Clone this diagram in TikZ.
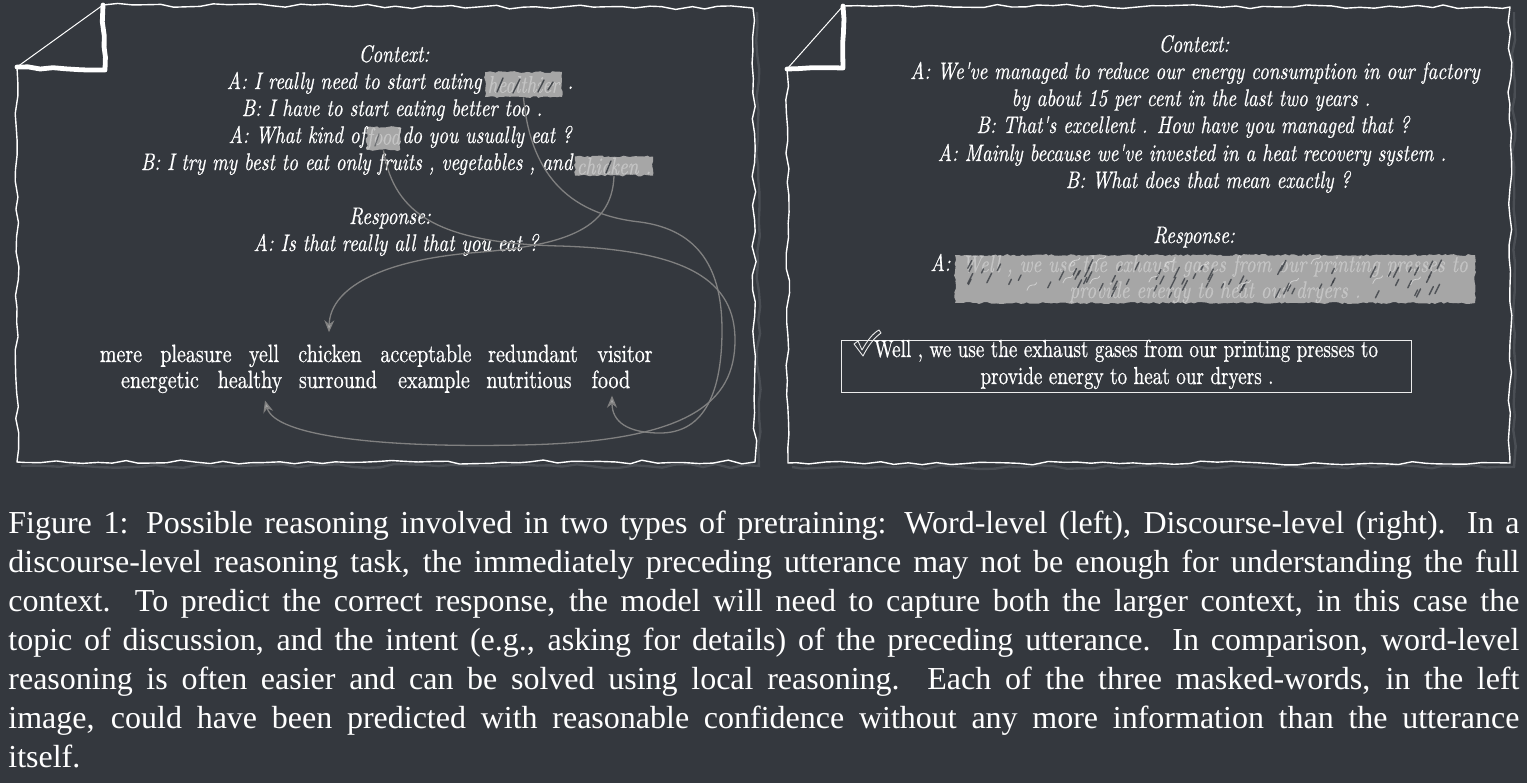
\documentclass[tikz,border=0pt]{standalone}
\usepackage{fontspec}
\setmainfont{Liberation Serif}
\newfontfamily\pfont{lmroman10-regular.otf}[ItalicFont=lmroman10-italic.otf, FakeStretch=0.8, FakeBold=0.6]
\newfontfamily\pfontb{lmroman10-regular.otf}[FakeStretch=0.78, FakeBold=0.6]
\usetikzlibrary{decorations.pathmorphing,arrows.meta,calc}
\definecolor{bg}{RGB}{52,56,62}
\definecolor{maskc}{RGB}{166,166,166}
\definecolor{masktxt}{RGB}{196,196,196}
\definecolor{connc}{RGB}{128,128,128}
\definecolor{shadowc}{RGB}{74,78,84}
\begin{document}
\begin{tikzpicture}[x=0.5pt,y=-0.5pt,
  dlg/.style={text=white, font=\pfont\itshape\fontsize{12}{13.5}\selectfont, inner sep=0pt, anchor=base},
  wordn/.style={text=white, font=\pfont\fontsize{12.5}{13.5}\selectfont, inner sep=0.5pt, anchor=base},
  boxt/.style={text=white, font=\pfontb\fontsize{12.3}{13.5}\selectfont, inner sep=0.5pt, anchor=base},
  maskbox/.style={fill=maskc, text=masktxt, font=\pfont\itshape\fontsize{12}{13}\selectfont, inner sep=0pt,
     decorate, decoration={random steps, segment length=1.5pt, amplitude=0.5pt}},
  border/.style={draw=white, line width=0.7pt, line join=round, decorate, decoration={random steps, segment length=7pt, amplitude=1pt}},
  shadowl/.style={draw=shadowc, line width=1.2pt, decorate, decoration={random steps, segment length=7pt, amplitude=1pt}},
  foldthick/.style={draw=white, line width=2.4pt, line cap=round, line join=round, decorate, decoration={random steps, segment length=6pt, amplitude=0.7pt}},
  foldthin/.style={draw=white, line width=0.5pt},
  conn/.style={draw=connc, line width=0.65pt, -{Stealth[length=6pt,width=5pt,fill=connc!70!white]}},
  scrib/.style={draw=bg, line width=0.7pt, line cap=round, opacity=0.85}
]
\pgfmathsetseed{7}
\fill[bg] (0,0) rectangle (1527,783);
\useasboundingbox (0,0) rectangle (1527,783);

% ---------- left panel ----------
\draw[shadowl] (757,12) -- (759,466) -- (21,466);
\draw[border] (103,5) -- (753,8) -- (755,462) -- (17,462) -- (17,67);
\draw[foldthin] (17,67) -- (103,5);
\draw[foldthick] (17,67) -- (105,70) -- (103,5);

\node[dlg] (lctx) at (394,62) {Context:};
% line 1
\node[maskbox, minimum width=38.5pt, minimum height=12.5pt] (mh) at (523.5,84.5) {healthier};
\node[dlg, anchor=base east] (l1a) at (482,89) {A: I really need to start eating};
\node[dlg, anchor=base west] (l1b) at (567,89) {.};
\node[dlg] (l2) at (392,116) {B: I have to start eating better too .};
% line 3
\node[maskbox, minimum width=16.5pt, minimum height=11.5pt] (mf) at (383.5,138.5) {food};
\node[dlg, anchor=base east] (l3a) at (366,143) {A: What kind of};
\node[dlg, anchor=base west] (l3b) at (402,143) {do you usually eat ?};
% line 4
\node[maskbox, minimum width=39pt, minimum height=9.5pt] (mc) at (614,166) {chicken .};
\node[dlg, anchor=base east] (l4a) at (573,170) {B: I try my best to eat only fruits , vegetables , and};

\node[dlg] (lresp) at (390,224) {Response:};
\node[dlg] (lr1) at (396,251) {A: Is that really all that you eat ?};

% scribbles in masks
\draw[scrib] (497,92) -- (503,78) (513,93) -- (520,79) (538,92) -- (544,80) (548,90) -- (553,82);
\draw[scrib] (606,173) -- (611,161);
\draw[scrib, opacity=0.5] (375,146) -- (379,134);

% word rows
\node[wordn] (w1) at (121,362) {mere};
\node[wordn] (w2) at (196,362) {pleasure};
\node[wordn] (w3) at (264,362) {yell};
\node[wordn] (wchicken) at (330,362) {chicken};
\node[wordn] (w5) at (426,362) {acceptable};
\node[wordn] (w6) at (533,362) {redundant};
\node[wordn] (w7) at (625,362) {visitor};
\node[wordn] (w8) at (160,388) {energetic};
\node[wordn] (whealthy) at (250,388) {healthy};
\node[wordn] (w10) at (338,388) {surround};
\node[wordn] (w11) at (434,388) {example};
\node[wordn] (w12) at (529,388) {nutritious};
\node[wordn] (wfood) at (611,388) {food};

% connectors
\draw[conn] (mh.south) .. controls (530,170) and (565,214) .. (640,222)
   .. controls (700,230) and (722,270) .. (722,330)
   .. controls (722,400) and (700,433) .. (660,433)
   .. controls (628,433) and (612,422) .. ($(wfood.south)+(1,6)$);
\draw[conn] (mf.south) .. controls (394,215) and (440,243) .. (560,246)
   .. controls (690,250) and (735,282) .. (735,340)
   .. controls (735,402) and (690,442) .. (520,445)
   .. controls (380,448) and (275,436) .. ($(whealthy.south)+(15,6)$);
\draw[conn] (mc.south) .. controls (612,232) and (560,246) .. (470,253)
   .. controls (372,262) and (330,292) .. ($(wchicken.north)+(-1,-11)$);

% ---------- right panel ----------
\draw[shadowl] (1514,12) -- (1514,467) -- (792,467);
\draw[border] (843,6) -- (1510,7) -- (1510,463) -- (788,463) -- (787,69);
\draw[foldthin] (787,69) -- (843,6);
\draw[foldthick] (787,69) -- (843,68) -- (843,6);

\node[dlg] (rctx) at (1194,52) {Context:};
\node[dlg] (r1) at (1195,79) {A: We've managed to reduce our energy consumption in our factory};
\node[dlg] (r2) at (1191,106) {by about 15 per cent in the last two years .};
\node[dlg] (r3) at (1193,133) {B: That's excellent . How have you managed that ?};
\node[dlg] (r4) at (1192,161) {A: Mainly because we've invested in a heat recovery system .};
\node[dlg] (r5) at (1208,188) {B: What does that mean exactly ?};
\node[dlg] (rresp) at (1194,243) {Response:};
\node[maskbox, minimum width=260pt, minimum height=24pt, align=center, font=\pfont\itshape\fontsize{12}{13}\selectfont] (rm) at (1215,279)
  {Well , we use the exhaust gases from our printing presses to\\provide energy to heat our dryers .};
\node[dlg, anchor=base east] (rA) at (951,271) {A:};
\foreach \i in {1,...,70} {
  \pgfmathsetmacro\xx{962+rnd*500}
  \pgfmathsetmacro\yy{268+rnd*30}
  \pgfmathsetmacro\ll{4+rnd*7}
  \draw[scrib, opacity=0.75] (\xx,\yy) -- ++(0.5*\ll,-\ll);
}
\foreach \i in {1,...,14} {
  \pgfmathsetmacro\xx{970+rnd*480}
  \pgfmathsetmacro\yy{262+rnd*30}
  \draw[draw=white!85!gray, line width=0.4pt, opacity=0.6] (\xx,\yy) .. controls ++(4,-10) and ++(-3,6) .. ++(10,-8);
}

% answer box
\node[draw=white!85!gray, line width=0.5pt, minimum width=285pt, minimum height=26pt, inner sep=0pt] (rbox) at (1126,366) {};
\node[boxt] (rb1) at (1126,357) {Well , we use the exhaust gases from our printing presses to};
\node[boxt] (rb2) at (1127,384) {provide energy to heat our dryers .};
\draw[white!85!gray, line width=0.45pt, line join=round] (854,344) -- (858,341) -- (862,350)
   .. controls (867,341) and (873,333) .. (879,330) -- (881,333)
   .. controls (874,338) and (868,346) .. (863,356) -- cycle;

% ---------- caption ----------
\node[anchor=north west, text width=755.5pt, align=justify, inner sep=0pt, text=white,
      font=\fontsize{16}{19.5}\selectfont] (cap) at (8,511)
{\hyphenpenalty=10000 \exhyphenpenalty=10000 \tolerance=9999
Figure 1: Possible reasoning involved in two types of pretraining: Word-level (left), Discourse-level (right). In a\linebreak
discourse-level reasoning task, the immediately preceding utterance may not be enough for understanding the full\linebreak
context. To predict the correct response, the model will need to capture both the larger context, in this case the\linebreak
topic of discussion, and the intent (e.g., asking for details) of the preceding utterance. In comparison, word-level\linebreak
reasoning is often easier and can be solved using local reasoning. Each of the three masked-words, in the left\linebreak
image, could have been predicted with reasonable confidence without any more information than the utterance\linebreak
itself.};
\end{tikzpicture}
\end{document}
